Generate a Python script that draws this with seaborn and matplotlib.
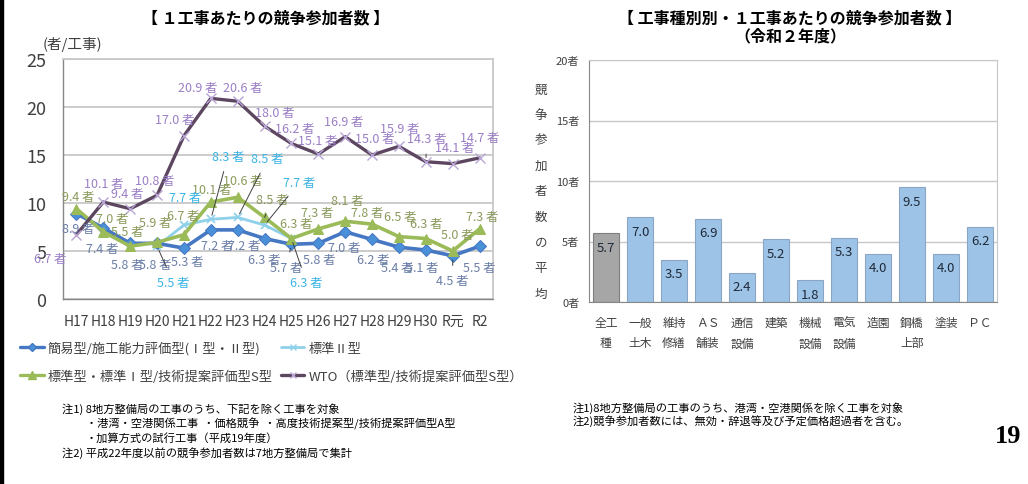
import numpy as np
import matplotlib
matplotlib.use("Agg")
import matplotlib.pyplot as plt
import seaborn as sns
from matplotlib.lines import Line2D
from matplotlib.patches import Rectangle
from matplotlib.ticker import FixedLocator

# ---------------- data ----------------
years = ["H17", "H18", "H19", "H20", "H21", "H22", "H23", "H24",
         "H25", "H26", "H27", "H28", "H29", "H30", "R元", "R2"]
kani = [8.9, 7.4, 5.8, 5.8, 5.3, 7.2, 7.2, 6.3, 5.7, 5.8, 7.0, 6.2, 5.4, 5.1, 4.5, 5.5]
hyojun2_years = ["H20", "H21", "H22", "H23", "H24", "H25"]
hyojun2 = [5.5, 7.7, 8.3, 8.5, 7.7, 6.3]
hyojun = [9.4, 7.0, 5.5, 5.9, 6.7, 10.1, 10.6, 8.5, 6.3, 7.3, 8.1, 7.8, 6.5, 6.3, 5.0, 7.3]
wto = [6.7, 10.1, 9.4, 10.8, 17.0, 20.9, 20.6, 18.0, 16.2, 15.1, 16.9, 15.0, 15.9, 14.3, 14.1, 14.7]

series_names = ["簡易型/施工能力評価型(Ⅰ型・Ⅱ型)", "標準Ⅱ型",
                "標準型・標準Ⅰ型/技術提案評価型S型", "WTO（標準型/技術提案評価型S型）"]

bar_cats = ["全工\n種", "一般\n土木", "維持\n修繕", "ＡＳ\n舗装", "通信\n設備", "建築",
            "機械\n設備", "電気\n設備", "造園", "鋼橋\n上部", "塗装", "ＰＣ"]
bar_vals = [5.7, 7.0, 3.5, 6.9, 2.4, 5.2, 1.8, 5.3, 4.0, 9.5, 4.0, 6.2]
bar_yticks = [0, 5, 10, 15, 20]

# label offsets (pixels, image coords: +y = down)
off_wto = [(-26, 24), (1, -19), (-3, -15), (-2, -15), (-9, -16), (-13, -11), (5, -14), (10, -14),
           (3, -15), (-1, -14), (-1, -15), (3, -16), (1, -18), (1, -23), (2, -16), (0, -20)]
off_hyo = [(2, -12), (9, -13), (-3, -15), (-2, -20), (-1, -19), (1, -13), (5, -17), (8, -18),
           (5, -15), (-1, -16), (2, -21), (-5, -12), (1, -20), (1, -15), (5, -16), (3, -12)]
off_kan = [(2, 15), (-1, 21), (-3, 21), (-2, 21), (3, 13), (6, 16), (7, 16), (0, 21),
           (-5, 23), (1, 16), (-1, 16), (1, 20), (-2, 20), (-3, 17), (0, 25), (0, 21)]
off_h2 = [(16, 36), (1, -28), (17, -63), (30, -59), (35, -43), (15, 44)]

# ---------------- style ----------------
sns.set_style("white")
plt.rcParams["font.family"] = ["Noto Sans CJK JP", "DejaVu Sans"]

W, H = 1028, 485
fig = plt.figure(figsize=(W / 100, H / 100), dpi=100)

def fx(px):
    return px / W

def fy(py):
    return 1 - py / H

c_kan, c_kan_lbl = "#4677c2", "#6b7fa8"
c_h2, c_h2_lbl = "#8fd0ea", "#3cb4e6"
c_hyo, c_hyo_lbl = "#9bbb59", "#8a9a5b"
c_wto, c_wto_mk, c_wto_lbl = "#5c4660", "#b9a6d6", "#9b7fc6"
grid_c = "#c8c8c8"
txt_c = "#404040"

# ---------------- left line chart ----------------
ax = fig.add_axes([fx(63), fy(300), fx(493) - fx(63), fy(60) - fy(300)])
xi = np.arange(len(years))
xi2 = np.array([years.index(y) for y in hyojun2_years])

sns.lineplot(x=xi, y=kani, ax=ax, color=c_kan, linewidth=2.6, marker="D", markersize=6,
             markeredgecolor=c_kan, markerfacecolor="#4a90d9", zorder=3)
sns.lineplot(x=xi2, y=hyojun2, ax=ax, color=c_h2, linewidth=2.0, marker="x", markersize=6,
             markeredgecolor=c_h2, markeredgewidth=1.2, zorder=2)
sns.lineplot(x=xi, y=hyojun, ax=ax, color=c_hyo, linewidth=2.6, marker="^", markersize=7.5,
             markeredgecolor=c_hyo, markerfacecolor=c_hyo, zorder=4)
sns.lineplot(x=xi, y=wto, ax=ax, color=c_wto, linewidth=2.4, marker="x", markersize=7,
             markeredgecolor=c_wto_mk, markeredgewidth=1.0, zorder=5)

ax.set_xlim(-0.5, len(years) - 0.5)
ax.set_ylim(0, 25)
ax.set_yticks([0, 5, 10, 15, 20, 25])
ax.set_xticks(xi)
ax.set_xticklabels(years)
ax.xaxis.set_minor_locator(FixedLocator(np.arange(-0.5, len(years), 1)))
ax.tick_params(axis="x", which="major", length=0, pad=11, labelsize=10, labelcolor=txt_c)
ax.tick_params(axis="x", which="minor", length=4, width=0.8, color="#888888", direction="out")
ax.tick_params(axis="y", which="major", length=4, width=0.8, color="#888888", direction="out",
               labelsize=13, labelcolor=txt_c, pad=8)
ax.grid(axis="y", color=grid_c, linewidth=1.3)
ax.set_axisbelow(True)
for s in ["left", "bottom"]:
    ax.spines[s].set_color("#888888")
    ax.spines[s].set_linewidth(1.0)
ax.spines["right"].set_color(grid_c)
ax.spines["right"].set_linewidth(1.3)
ax.spines["top"].set_color(grid_c)
ax.spines["top"].set_linewidth(1.3)
ax.set_xlabel("")
ax.set_ylabel("")

def label_series(xs, vals, offs, color, leaders=()):
    for k, (x, v, (dx, dy)) in enumerate(zip(xs, vals, offs)):
        kw = {}
        if k in leaders:
            kw["arrowprops"] = dict(arrowstyle="-", color="#404040", lw=0.7, shrinkA=4, shrinkB=3)
        ax.annotate(f"{v:.1f} 者", xy=(x, v), xytext=(dx, -dy), textcoords="offset pixels",
                    ha="center", va="center", fontsize=9, color=color, zorder=6, **kw)

label_series(xi, wto, off_wto, c_wto_lbl, leaders=(13,))
label_series(xi, hyojun, off_hyo, c_hyo_lbl, leaders=(7,))
label_series(xi, kani, off_kan, c_kan_lbl, leaders=(8, 14))
label_series(xi2, hyojun2, off_h2, c_h2_lbl, leaders=(0, 2, 3, 4, 5))

fig.text(fx(72), fy(45), "(者/工事)", ha="center", va="center", fontsize=10.5, color=txt_c)
fig.text(fx(266), fy(18), "【 １工事あたりの競争参加者数 】", ha="center", va="center",
         fontsize=11.5, fontweight="bold", color="black")

handles = [
    Line2D([], [], color=c_kan, lw=2.4, marker="D", markersize=4.5, markerfacecolor="#4a90d9"),
    Line2D([], [], color=c_hyo, lw=2.4, marker="^", markersize=6),
    Line2D([], [], color=c_h2, lw=2.0, marker="x", markersize=5),
    Line2D([], [], color=c_wto, lw=2.4, marker="x", markersize=5, markeredgecolor=c_wto_mk),
]
labels = [series_names[0], series_names[2], series_names[1], series_names[3]]
fig.legend(handles, labels, ncol=2, loc="center left", bbox_to_anchor=(fx(20), fy(363)),
           frameon=False, fontsize=9.5, handlelength=1.8, handletextpad=0.3,
           columnspacing=0.6, labelspacing=1.1, borderaxespad=0, borderpad=0,
           labelcolor=txt_c)

notes_left = [
    (62, 409, "注1) 8地方整備局の工事のうち、下記を除く工事を対象"),
    (86, 424, "・港湾・空港関係工事  ・価格競争  ・高度技術提案型/技術提案評価型A型"),
    (86, 438, "・加算方式の試行工事（平成19年度）"),
    (62, 453, "注2) 平成22年度以前の競争参加者数は7地方整備局で集計"),
]
for x, y, t in notes_left:
    fig.text(fx(x), fy(y), t, ha="left", va="center", fontsize=8.1, color="black")

# ---------------- right bar chart ----------------
ax2 = fig.add_axes([fx(589), fy(303), fx(997) - fx(589), fy(61) - fy(303)])
bar_colors = ["#a6a6a6"] + ["#9dc3e6"] * (len(bar_cats) - 1)
sns.barplot(x=bar_cats, y=bar_vals, hue=bar_cats, palette=bar_colors, legend=False,
            ax=ax2, width=0.76, edgecolor="#8aa6c4", linewidth=0.8, saturation=1)
ax2.patches[0].set_edgecolor("#7f7f7f")
for i, v in enumerate(bar_vals):
    ax2.annotate(f"{v:.1f}", xy=(i, v), xytext=(0, -14), textcoords="offset pixels",
                 ha="center", va="center", fontsize=9.5, color="#1f2a3a")
ax2.set_ylim(0, 20)
ax2.set_xlim(-0.5, len(bar_cats) - 0.5)
ax2.set_yticks(bar_yticks)
ax2.set_yticklabels([f"{t}者" for t in bar_yticks])
ax2.xaxis.set_minor_locator(FixedLocator(np.arange(-0.5, len(bar_cats), 1)))
ax2.tick_params(axis="x", which="major", length=0, pad=10, labelsize=8.5, labelcolor=txt_c)
ax2.tick_params(axis="x", which="minor", length=5, width=0.8, color="#888888", direction="out")
ax2.tick_params(axis="y", which="major", length=4, width=0.8, color="#888888", direction="out",
                labelsize=8, labelcolor=txt_c, pad=3)
for lbl in ax2.get_xticklabels():
    lbl.set_linespacing(1.75)
ax2.grid(axis="y", color=grid_c, linewidth=1.0)
ax2.set_axisbelow(True)
for s in ["left", "bottom"]:
    ax2.spines[s].set_color("#888888")
for s in ["right", "top"]:
    ax2.spines[s].set_color(grid_c)
ax2.set_xlabel("")
ax2.set_ylabel("")

fig.text(fx(541), fy(192), "\n".join("競争参加者数の平均"), ha="center", va="center",
         fontsize=9, color=txt_c, linespacing=2.25)
fig.text(fx(790), fy(18), "【 工事種別別・１工事あたりの競争参加者数 】", ha="center", va="center",
         fontsize=11.5, fontweight="bold", color="black")
fig.text(fx(790), fy(36), "（令和２年度）", ha="center", va="center",
         fontsize=11.5, fontweight="bold", color="black")

notes_right = [
    (573, 408, "注1)8地方整備局の工事のうち、港湾・空港関係を除く工事を対象"),
    (573, 421, "注2)競争参加者数には、無効・辞退等及び予定価格超過者を含む。"),
]
for x, y, t in notes_right:
    fig.text(fx(x), fy(y), t, ha="left", va="center", fontsize=8.1, color="black")

fig.text(fx(1008), fy(437), "19", ha="center", va="center", fontsize=19,
         fontweight="bold", family="Liberation Serif", color="black")

fig.add_artist(Rectangle((0, 0), fx(3), 1, transform=fig.transFigure, color="black", zorder=10))

fig.savefig("out.png", dpi=100)
